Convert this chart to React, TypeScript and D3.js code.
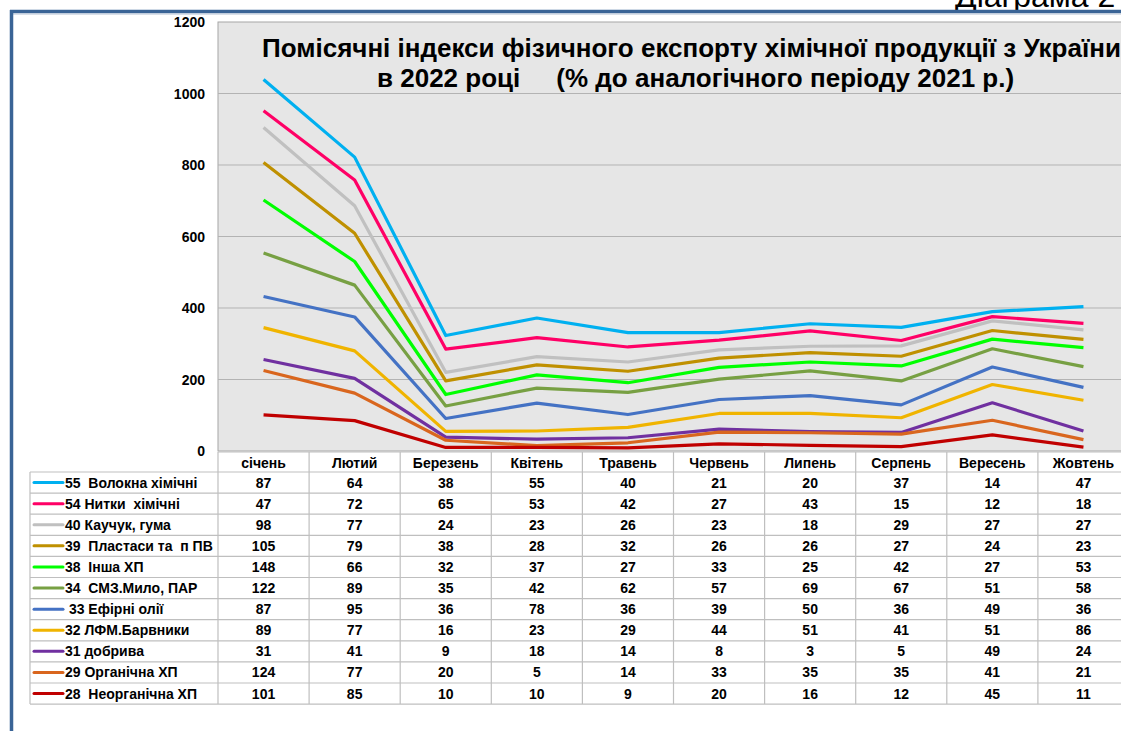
import React from 'react';
import * as d3 from 'd3';

const months = ['січень', 'Лютий', 'Березень', 'Квітень', 'Травень', 'Червень', 'Липень', 'Серпень', 'Вересень', 'Жовтень'];

// table order (top to bottom), stacked bottom-up in reverse
const seriesNames = [
  '55  Волокна хімічні',
  '54 Нитки  хімічні',
  '40 Каучук, гума',
  '39  Пластаси та  п ПВ',
  '38  Інша ХП',
  '34  СМЗ.Мило, ПАР',
  ' 33 Ефірні олії',
  '32 ЛФМ.Барвники',
  '31 добрива',
  '29 Органічна ХП',
  '28  Неорганічна ХП',
];

const seriesColors = ['#00b0f0', '#ff0066', '#c0c0c0', '#bf9000', '#00ff00', '#77a043', '#4472c4', '#f0b400', '#7030a0', '#d9661e', '#c00000'];

const v55 = [87, 64, 38, 55, 40, 21, 20, 37, 14, 47];
const v54 = [47, 72, 65, 53, 42, 27, 43, 15, 12, 18];
const v40 = [98, 77, 24, 23, 26, 23, 18, 29, 27, 27];
const v39 = [105, 79, 38, 28, 32, 26, 26, 27, 24, 23];
const v38 = [148, 66, 32, 37, 27, 33, 25, 42, 27, 53];
const v34 = [122, 89, 35, 42, 62, 57, 69, 67, 51, 58];
const v33 = [87, 95, 36, 78, 36, 39, 50, 36, 49, 36];
const v32 = [89, 77, 16, 23, 29, 44, 51, 41, 51, 86];
const v31 = [31, 41, 9, 18, 14, 8, 3, 5, 49, 24];
const v29 = [124, 77, 20, 5, 14, 33, 35, 35, 41, 21];
const v28 = [101, 85, 10, 10, 9, 20, 16, 12, 45, 11];

const seriesValues = [v55, v54, v40, v39, v38, v34, v33, v32, v31, v29, v28];

const yTicks = [0, 200, 400, 600, 800, 1000, 1200];

const W = 1121;
const H = 731;
const plotLeft = 218;
const plotRight = 1129;
const plotTop = 22;
const plotBottom = 451;
const headerTop = 452;
const rowTop = 472;
const rowH = 21.1;
const tableLeft = 30;

const font = 'Arial, "Liberation Sans", sans-serif';

export default function App() {
  const x = d3.scaleBand<string>().domain(months).range([plotLeft, plotRight]);
  const y = d3.scaleLinear().domain([0, 1200]).range([plotBottom, plotTop]);
  const cx = (m: string) => (x(m) as number) + x.bandwidth() / 2;

  // cumulative (stacked) values, bottom series first
  const n = seriesValues.length;
  const stacked: number[][] = new Array(n);
  let running = months.map(() => 0);
  for (let i = n - 1; i >= 0; i--) {
    running = running.map((r, j) => r + seriesValues[i][j]);
    stacked[i] = running.slice();
  }

  const line = d3
    .line<number>()
    .x((_, j) => cx(months[j]))
    .y((d) => y(d));

  const tableBottom = rowTop + rowH * n;

  return (
    <svg width={W} height={H} style={{ position: 'absolute', left: 0, top: 0, background: '#fff' }} fontFamily={font}>
      {/* page frame */}
      <text x={955} y={7} fontSize={32} fill="#000">Діаграма 2</text>
      <rect x={0} y={10} width={W} height={5} fill="#fff" />
      <line x1={10} x2={W} y1={11.5} y2={11.5} stroke="#3a6496" strokeWidth={3.5} />
      <line x1={13} x2={W} y1={14} y2={14} stroke="#b4c2d4" strokeWidth={1} />
      <line x1={11.5} x2={11.5} y1={10} y2={H} stroke="#3a6496" strokeWidth={3.5} />

      {/* plot area */}
      <rect x={plotLeft} y={plotTop} width={plotRight - plotLeft} height={plotBottom - plotTop} fill="#e6e6e6" stroke="#a6a6a6" />
      {yTicks.map((t) => (
        <g key={t}>
          {t > 0 && t < 1200 && <line x1={plotLeft} x2={plotRight} y1={y(t)} y2={y(t)} stroke="#b3b3b3" strokeWidth={1} />}
          <text x={205} y={y(t) + 5} textAnchor="end" fontSize={14} fontWeight="bold" fill="#000">{t}</text>
        </g>
      ))}

      {/* title */}
      <text x={262} y={57} fontSize={26} fontWeight="bold" fill="#000">
        Помісячні індекси фізичного експорту хімічної продукції з України
      </text>
      <text x={377} y={87} fontSize={26} fontWeight="bold" fill="#000" style={{ whiteSpace: 'pre' }}>
        {'в 2022 році     (% до аналогічного періоду 2021 р.)'}
      </text>

      {/* lines */}
      {stacked.map((s, i) => (
        <path key={i} d={line(s) || ''} fill="none" stroke={seriesColors[i]} strokeWidth={3.2} strokeLinejoin="round" />
      ))}

      {/* data table */}
      <g stroke="#bfbfbf" strokeWidth={1.2}>
        <line x1={plotLeft} x2={plotRight} y1={headerTop} y2={headerTop} />
        {d3.range(n + 1).map((r) => (
          <line key={r} x1={tableLeft} x2={plotRight} y1={rowTop + r * rowH} y2={rowTop + r * rowH} />
        ))}
        <line x1={tableLeft} x2={tableLeft} y1={rowTop} y2={tableBottom} />
        {months.map((m) => (
          <line key={m} x1={x(m) as number} x2={x(m) as number} y1={headerTop} y2={tableBottom} />
        ))}
      </g>
      {months.map((m) => (
        <text key={m} x={cx(m)} y={headerTop + 15.5} textAnchor="middle" fontSize={14} fontWeight="bold" fill="#000">{m}</text>
      ))}
      {seriesNames.map((name, i) => {
        const yc = rowTop + i * rowH + rowH / 2;
        return (
          <g key={name}>
            <line x1={34} x2={63} y1={yc} y2={yc} stroke={seriesColors[i]} strokeWidth={3} strokeLinecap="round" />
            <text x={65} y={yc + 5} fontSize={14} fontWeight="bold" fill="#000" style={{ whiteSpace: 'pre' }}>{name}</text>
            {seriesValues[i].map((v, j) => (
              <text key={j} x={cx(months[j])} y={yc + 5} textAnchor="middle" fontSize={14} fontWeight="bold" fill="#000">{v}</text>
            ))}
          </g>
        );
      })}
    </svg>
  );
}
